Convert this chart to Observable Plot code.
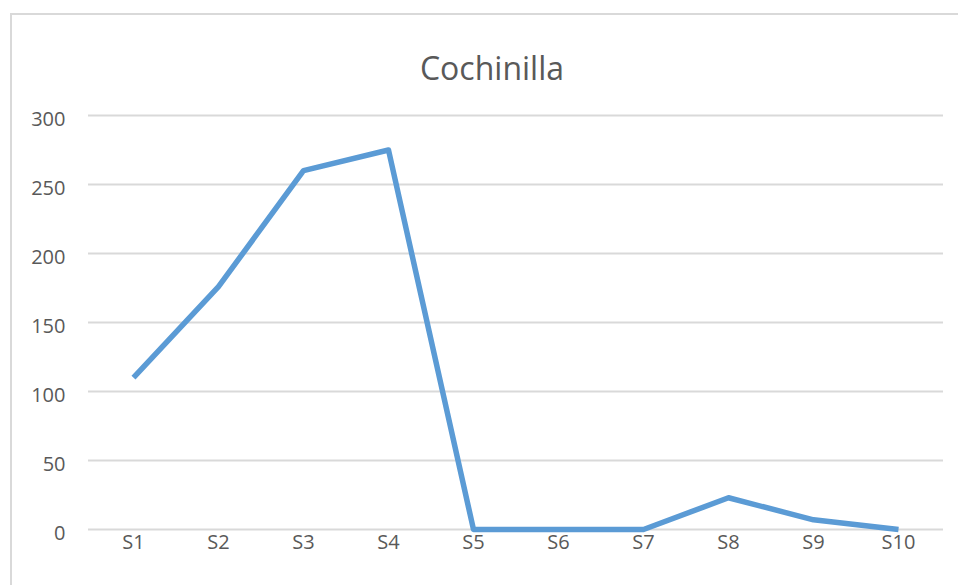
<!DOCTYPE html>
<html>
<head>
<meta charset="utf-8">
<script src="https://cdn.jsdelivr.net/npm/d3@7"></script>
<script src="https://cdn.jsdelivr.net/npm/@observablehq/plot@0.6"></script>
<style>
  html, body { margin: 0; padding: 0; background: #fff; overflow: hidden; }
  #wrap { position: relative; width: 958px; height: 585px; }
  #frame { position: absolute; left: 10px; top: 13px; width: 1000px; height: 700px; border: 2px solid #d9d9d9; box-sizing: border-box; }
  #title { position: absolute; left: 0; top: 49px; width: 984px; text-align: center; font-family: "Open Sans", sans-serif; font-size: 32px; color: #595959; line-height: 1.2; }
  #chart { position: absolute; left: 0; top: 0; }
</style>
</head>
<body>
<div id="wrap">
  <div id="frame"></div>
  <div id="title">Cochinilla</div>
  <div id="chart"></div>
</div>
<script>
const categories = ["S1", "S2", "S3", "S4", "S5", "S6", "S7", "S8", "S9", "S10"];
const values = [110, 176, 260, 275, 0, 0, 0, 23, 7, 0];
const yTicks = [0, 50, 100, 150, 200, 250, 300];

const data = categories.map((c, i) => ({cat: c, value: values[i]}));

const chart = Plot.plot({
  width: 958,
  height: 585,
  marginLeft: 88,
  marginRight: 15,
  marginTop: 115,
  marginBottom: 56,
  style: {fontFamily: "'Open Sans', sans-serif", fontSize: "20px", color: "#595959", background: "transparent", overflow: "visible"},
  x: {type: "point", domain: categories, padding: 0.5, label: null},
  y: {domain: [0, 300], label: null},
  marks: [
    Plot.gridY(yTicks, {stroke: "#d9d9d9", strokeOpacity: 1, strokeWidth: 2}),
    Plot.axisY(yTicks, {tickSize: 0, tickPadding: 23, fontSize: 20, fill: "#595959", dy: 4, label: null}),
    Plot.axisX(categories, {tickSize: 0, tickPadding: 5, fontSize: 20, fill: "#595959", label: null}),
    Plot.line(data, {x: "cat", y: "value", stroke: "#5b9bd5", strokeWidth: 5.5, strokeLinejoin: "round", strokeLinecap: "butt"})
  ]
});
document.getElementById("chart").appendChild(chart);
</script>
</body>
</html>
